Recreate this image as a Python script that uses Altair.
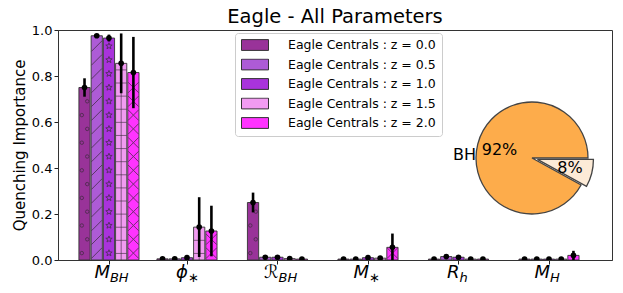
import math
import altair as alt
import pandas as pd

# ---------------- data ----------------
params = ["M_BH", "phi_*", "R_BH", "M_*", "R_h", "M_H"]
param_pos = [0.138, 1, 2, 3, 4, 5]
label_main = ["M", "ϕ", "ℛ", "M", "R", "M"]
label_sub = ["BH", "∗", "BH", "∗", "h", "H"]

redshifts = ["0.0", "0.5", "1.0", "1.5", "2.0"]
series_labels = ["Eagle Centrals : z = " + z for z in redshifts]
colors = ["#993399", "#ad5bd6", "#a933dc", "#f19bf1", "#ff33ff"]
hatches = ["o", "/", "*", "+", "x"]

imp_z00 = [0.750, 0.005, 0.250, 0.004, 0.004, 0.004]
imp_z05 = [0.975, 0.005, 0.012, 0.004, 0.015, 0.004]
imp_z10 = [0.965, 0.010, 0.012, 0.010, 0.012, 0.004]
imp_z15 = [0.855, 0.143, 0.006, 0.008, 0.004, 0.004]
imp_z20 = [0.815, 0.126, 0.004, 0.055, 0.004, 0.020]

err_z00 = [0.040, 0.004, 0.043, 0.004, 0.004, 0.004]
err_z05 = [0.004, 0.004, 0.006, 0.004, 0.006, 0.004]
err_z10 = [0.015, 0.008, 0.006, 0.006, 0.006, 0.004]
err_z15 = [0.130, 0.130, 0.004, 0.006, 0.004, 0.004]
err_z20 = [0.155, 0.110, 0.004, 0.060, 0.004, 0.020]

pie_labels = ["BH", ""]
pie_values = [92, 8]
pie_colors = ["#fdac4b", "#fdebd7"]

# ---------------- build table ----------------
imps = [imp_z00, imp_z05, imp_z10, imp_z15, imp_z20]
errs = [err_z00, err_z05, err_z10, err_z15, err_z20]
bar_step = 0.135
bar_half = 0.062

rows = []
for zi, (lab, vals, es) in enumerate(zip(series_labels, imps, errs)):
    for pi, p in enumerate(params):
        c = param_pos[pi] + (zi - 2) * bar_step
        rows.append(dict(series=lab, hatch=hatches[zi], param=p, xc=c,
                         x0=c - bar_half, x1=c + bar_half, imp=vals[pi],
                         lo=max(vals[pi] - es[pi], 0), hi=vals[pi] + es[pi], zero=0.0))
df = pd.DataFrame(rows)

# hatch decorations derived from the bar values
hrows = []
for r in rows:
    v = r["imp"]
    h = r["hatch"]
    step = 0.06 if h != "+" else 0.057
    k = 0
    while (k + 0.5) * step + 0.02 < v:
        y = (k + 0.5) * step
        off = 0.0
        if h == "o":
            off = -0.03 if k % 2 == 0 else 0.03
        hrows.append(dict(hatch=h, x=r["xc"] + off, y=y))
        k += 1
hdf = pd.DataFrame(hrows)

labels_df = pd.DataFrame(dict(pos=param_pos, main=label_main, sub=label_sub))

xscale = alt.Scale(domain=[-0.425, 5.696], nice=False, zero=False)
yscale = alt.Scale(domain=[0, 1.0], nice=False)

base = alt.Chart(df)

bars = base.mark_rect(stroke="#333333", strokeWidth=1, strokeOpacity=0.9).encode(
    x=alt.X("x0:Q", scale=xscale,
            axis=alt.Axis(values=param_pos, labels=False, title=None, grid=False,
                          ticks=True, tickSize=4, tickColor="#222", domainColor="#333")),
    x2="x1:Q",
    y=alt.Y("imp:Q", scale=yscale,
            axis=alt.Axis(values=[0, 0.2, 0.4, 0.6, 0.8, 1.0], format=".1f",
                          title="Quenching Importance", grid=False, tickSize=4,
                          tickColor="#222", domainColor="#333", labelFontSize=13,
                          titleFontSize=15, titleFontWeight="normal", labelPadding=2,
                          titlePadding=4, labelColor="#000", titleColor="#000",
                          labelFont="DejaVu Sans", titleFont="DejaVu Sans")),
    y2="zero:Q",
    fill=alt.Fill("series:N", scale=alt.Scale(domain=series_labels, range=colors),
                  legend=alt.Legend(title=None, orient="none", legendX=177, legendY=3,
                                    symbolType="M-1,-0.4H1V0.4H-1Z", symbolSize=729,
                                    clipHeight=12, rowPadding=6.5, labelFontSize=12.5,
                                    labelFont="DejaVu Sans", labelColor="#000",
                                    labelOffset=19, padding=6, strokeColor="#cccccc",
                                    fillColor="white", cornerRadius=3,
                                    symbolStrokeColor="#333333", symbolStrokeWidth=1,
                                    symbolOpacity=1)),
)

hatch_color = "#3a2a3a"
hb = alt.Chart(hdf)
h_o = hb.transform_filter("datum.hatch == 'o'").mark_point(
    shape="circle", size=12, filled=False, stroke=hatch_color, strokeWidth=1, opacity=0.7).encode(
    x=alt.X("x:Q", scale=xscale), y=alt.Y("y:Q", scale=yscale))
h_sl = hb.transform_filter("datum.hatch == '/'").mark_point(
    shape="M-1,1L1,-1", size=110, filled=False, stroke=hatch_color, strokeWidth=1, opacity=0.7).encode(
    x=alt.X("x:Q", scale=xscale), y=alt.Y("y:Q", scale=yscale))
star_pts = []
for i in range(10):
    rr = 1.0 if i % 2 == 0 else 0.42
    a = math.pi * i / 5
    star_pts.append("%.3f,%.3f" % (rr * math.sin(a), -rr * math.cos(a)))
star_path = "M" + "L".join(star_pts) + "Z"
h_st = hb.transform_filter("datum.hatch == '*'").mark_point(
    shape=star_path, size=45, filled=False, stroke=hatch_color, strokeWidth=1, opacity=0.7).encode(
    x=alt.X("x:Q", scale=xscale), y=alt.Y("y:Q", scale=yscale))
h_pl = hb.transform_filter("datum.hatch == '+'").mark_point(
    shape="M-1,0L1,0", size=121, filled=False, stroke=hatch_color, strokeWidth=1, opacity=0.6).encode(
    x=alt.X("x:Q", scale=xscale), y=alt.Y("y:Q", scale=yscale))
h_plv = base.transform_filter("datum.hatch == '+' && datum.imp > 0.05").mark_rule(
    stroke=hatch_color, strokeWidth=1, opacity=0.6).encode(
    x=alt.X("xc:Q", scale=xscale), y=alt.Y("zero:Q", scale=yscale), y2="imp:Q")
h_x = hb.transform_filter("datum.hatch == 'x'").mark_point(
    shape="M-1,-1L1,1M-1,1L1,-1", size=110, filled=False, stroke=hatch_color, strokeWidth=1, opacity=0.7).encode(
    x=alt.X("x:Q", scale=xscale), y=alt.Y("y:Q", scale=yscale))

ebar = base.mark_rule(color="black", strokeWidth=2.6).encode(
    x=alt.X("xc:Q", scale=xscale), y=alt.Y("lo:Q", scale=yscale), y2="hi:Q")
dots = base.mark_point(shape="circle", filled=True, color="black", size=32, opacity=1,
                       clip=True).encode(
    x=alt.X("xc:Q", scale=xscale), y=alt.Y("imp:Q", scale=yscale))

lab_main = alt.Chart(labels_df).mark_text(
    align="right", baseline="alphabetic", fontSize=18, fontStyle="italic",
    font="DejaVu Sans", color="black", dx=1).encode(
    x=alt.X("pos:Q", scale=xscale), y=alt.value(248), text="main:N")
lab_sub = alt.Chart(labels_df).mark_text(
    align="left", baseline="alphabetic", fontSize=13, fontStyle="italic",
    font="DejaVu Sans", color="black", dx=1).encode(
    x=alt.X("pos:Q", scale=xscale), y=alt.value(252), text="sub:N")

# ---------------- pie inset ----------------
tot = float(sum(pie_values))
small_frac = pie_values[1] / tot
t_split = math.pi / 2 + 2 * math.pi * small_frac
pie_big = pd.DataFrame(dict(t0=[t_split], t1=[math.pi / 2 + 2 * math.pi]))
pie_small = pd.DataFrame(dict(t0=[math.pi / 2], t1=[t_split]))
cx, cy, rad = 474, 128, 56
mid_small = (math.pi / 2 + t_split) / 2
ex = 0.1 * rad * math.sin(mid_small)
ey = -0.1 * rad * math.cos(mid_small)

arc_big = alt.Chart(pie_big).mark_arc(radius=rad, fill=pie_colors[0], stroke="#444444",
                                      strokeWidth=1.3).encode(
    theta=alt.Theta("t0:Q", scale=None), theta2="t1:Q",
    x=alt.value(cx), y=alt.value(cy))
arc_small = alt.Chart(pie_small).mark_arc(radius=rad, fill=pie_colors[1], stroke="#444444",
                                          strokeWidth=1.3).encode(
    theta=alt.Theta("t0:Q", scale=None), theta2="t1:Q",
    x=alt.value(cx + ex), y=alt.value(cy + ey))

pct_df = pd.DataFrame(dict(
    txt=["%d%%" % v for v in pie_values],
    px=[cx - 32.5, cx + 38],
    py=[cy - 8, cy + 10]))
pie_pct = alt.Chart(pct_df).mark_text(fontSize=16, font="DejaVu Sans", color="black",
                                      align="center", baseline="middle").encode(
    x=alt.X("px:Q", scale=None), y=alt.Y("py:Q", scale=None), text="txt:N")
pie_lab = alt.Chart(pd.DataFrame(dict(t=[pie_labels[0]]))).mark_text(
    fontSize=16, font="DejaVu Sans", color="black", align="right", baseline="middle").encode(
    x=alt.value(cx - 56), y=alt.value(cy - 3), text="t:N")

chart = alt.layer(
    bars, h_o, h_sl, h_st, h_pl, h_plv, h_x, ebar, dots, lab_main, lab_sub,
    arc_big, arc_small, pie_lab, pie_pct
).resolve_scale(x="shared", y="shared").properties(
    width=554, height=230,
    title=alt.TitleParams("Eagle - All Parameters", fontSize=19.5, font="DejaVu Sans",
                          fontWeight="normal", offset=-3, anchor="middle", color="black"),
    autosize=alt.AutoSizeParams(type="none"),
    padding={"left": 50, "top": 22, "right": 3, "bottom": 25},
).configure_view(stroke="#333333", strokeWidth=1).configure_axis(
    labelFont="DejaVu Sans"
)

chart.save("out.html", embed_options={"renderer": "svg", "actions": False})
